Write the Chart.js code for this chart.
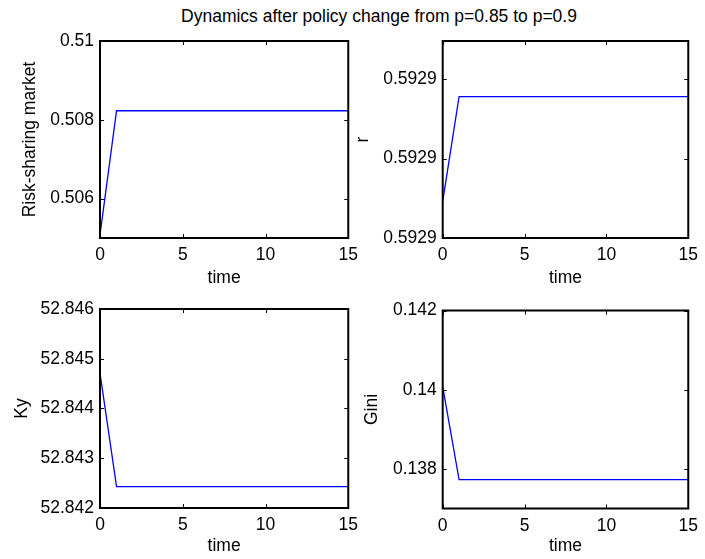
<!DOCTYPE html>
<html>
<head>
<meta charset="utf-8">
<script src="https://cdn.jsdelivr.net/npm/chart.js@4.4.0/dist/chart.umd.min.js"></script>
<style>
  html, body { margin:0; padding:0; background:#fff; overflow:hidden; }
  body { width:705px; height:559px; position:relative; font-family:"Liberation Sans", Arial, sans-serif; }
  canvas { position:absolute; }
  #title { position:absolute; top:6px; left:53px; width:652px; text-align:center; font-size:17.5px; line-height:20px; color:#000; white-space:nowrap; }
</style>
</head>
<body>
<div id="title">Dynamics after policy change from p=0.85 to p=0.9</div>
<canvas id="c1"></canvas>
<canvas id="c2"></canvas>
<canvas id="c3"></canvas>
<canvas id="c4"></canvas>
<script>
// time axis shared by all four panels
const TIME = [0,1,2,3,4,5,6,7,8,9,10,11,12,13,14,15];
const X_TICKS = [0,5,10,15];

// series
const MARKET = [0.50508,0.50823,0.50823,0.50823,0.50823,0.50823,0.50823,0.50823,0.50823,0.50823,0.50823,0.50823,0.50823,0.50823,0.50823,0.50823];
const R_RATE = [0.5928823,0.5928889,0.5928889,0.5928889,0.5928889,0.5928889,0.5928889,0.5928889,0.5928889,0.5928889,0.5928889,0.5928889,0.5928889,0.5928889,0.5928889,0.5928889];
const KY = [52.84471,52.84243,52.84243,52.84243,52.84243,52.84243,52.84243,52.84243,52.84243,52.84243,52.84243,52.84243,52.84243,52.84243,52.84243,52.84243];
const GINI = [0.14008,0.13773,0.13773,0.13773,0.13773,0.13773,0.13773,0.13773,0.13773,0.13773,0.13773,0.13773,0.13773,0.13773,0.13773,0.13773];

// y ticks and ranges
const MARKET_TICKS = [0.506,0.508,0.51];
const MARKET_RANGE = [0.505,0.51];
const R_TICKS = [0.59288,0.592885,0.59289];
const R_RANGE = [0.59288,0.5928924];
const KY_TICKS = [52.842,52.843,52.844,52.845,52.846];
const KY_RANGE = [52.842,52.846];
const GINI_TICKS = [0.138,0.14,0.142];
const GINI_RANGE = [0.137,0.142];

const FONT = { family:"'Liberation Sans', Arial, sans-serif", size:17.5 };

// panel placement (canvas box + axis box sizes)
const PANELS = [
  { id:"c1", left:0,   top:20,  w:365, h:270, yW:100,  xH:52, pad:{top:21,right:15,bottom:0,left:0},   yPad:19.8, xPad:1.8, label:"Risk-sharing market", data:MARKET, ticks:MARKET_TICKS, range:MARKET_RANGE },
  { id:"c2", left:345, top:20,  w:360, h:270, yW:97.7, xH:52, pad:{top:21,right:12.3,bottom:0,left:0}, yPad:7.8,  xPad:1.8, label:"r", data:R_RATE, ticks:R_TICKS, range:R_RANGE, fixed:4 },
  { id:"c3", left:0,   top:290, w:365, h:269, yW:100,  xH:51, pad:{top:19,right:15,bottom:0,left:0},   yPad:11.5, xPad:2.3, label:"Ky", data:KY, ticks:KY_TICKS, range:KY_RANGE },
  { id:"c4", left:345, top:290, w:360, h:269, yW:97.7, xH:50.5, pad:{top:20.5,right:12.3,bottom:0,left:0}, yPad:16.5, xPad:2.3, label:"Gini", data:GINI, ticks:GINI_TICKS, range:GINI_RANGE }
];

// box around the axes plus inward tick marks on all four sides
const framePlugin = {
  id:"frame",
  afterDraw(chart){
    const {ctx, chartArea:a, scales:{x, y}} = chart;
    const L = 4;
    ctx.save();
    ctx.strokeStyle = "#000";
    ctx.lineWidth = 1;
    ctx.beginPath();
    x.ticks.forEach(t=>{
      const px = Math.round(x.getPixelForValue(t.value)) + 0.5;
      ctx.moveTo(px, a.bottom); ctx.lineTo(px, a.bottom - L);
      ctx.moveTo(px, a.top); ctx.lineTo(px, a.top + L);
    });
    y.ticks.forEach(t=>{
      const py = Math.round(y.getPixelForValue(t.value)) + 0.5;
      ctx.moveTo(a.left, py); ctx.lineTo(a.left + L, py);
      ctx.moveTo(a.right, py); ctx.lineTo(a.right - L, py);
    });
    ctx.stroke();
    ctx.lineWidth = 2;
    ctx.strokeRect(a.left, a.top, a.right - a.left, a.bottom - a.top);
    ctx.restore();
  }
};

function fmt(v, fixed){
  if(fixed) return v.toFixed(fixed);
  return String(Number(v.toFixed(6)));
}

function makePanel(p){
  const el = document.getElementById(p.id);
  el.style.left = p.left + "px";
  el.style.top = p.top + "px";
  el.style.width = p.w + "px";
  el.style.height = p.h + "px";
  el.width = p.w;
  el.height = p.h;
  new Chart(el.getContext("2d"), {
    type:"line",
    data:{
      datasets:[{
        data: TIME.map((t,i)=>({x:t, y:p.data[i]})),
        borderColor:"#0000ff",
        borderWidth:1.3,
        pointRadius:0,
        tension:0,
        fill:false
      }]
    },
    options:{
      responsive:false,
      animation:false,
      events:[],
      layout:{ padding:p.pad },
      plugins:{ legend:{display:false}, tooltip:{enabled:false}, title:{display:false} },
      scales:{
        x:{
          type:"linear", min:0, max:15,
          grid:{ display:false, drawTicks:false },
          border:{ display:false },
          afterBuildTicks: s => { s.ticks = X_TICKS.map(v=>({value:v})); },
          afterFit: s => { s.height = p.xH; },
          ticks:{ color:"#000", font:FONT, padding:7, maxRotation:0, autoSkip:false },
          title:{ display:true, text:"time", color:"#000", font:FONT, padding:{top:0,bottom:p.xPad} }
        },
        y:{
          type:"linear", min:p.range[0], max:p.range[1],
          grid:{ display:false, drawTicks:false },
          border:{ display:false },
          afterBuildTicks: s => { s.ticks = p.ticks.map(v=>({value:v})); },
          afterFit: s => { s.width = p.yW; },
          ticks:{ color:"#000", font:FONT, padding:6, autoSkip:false, callback: v => fmt(v, p.fixed) },
          title:{ display:true, text:p.label, color:"#000", font:FONT, padding:{top:p.yPad,bottom:0} }
        }
      }
    },
    plugins:[framePlugin]
  });
}

PANELS.forEach(makePanel);
</script>
</body>
</html>
